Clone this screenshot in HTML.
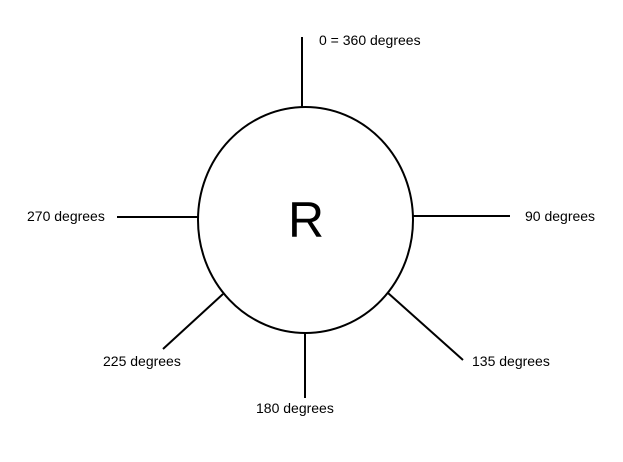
<!DOCTYPE html>
<html><head><style>html,body{margin:0;padding:0;background:#fff;width:623px;height:462px;overflow:hidden}
text{font-family:"Liberation Sans",sans-serif;font-size:14px;fill:#000}</style></head>
<body>
<svg width="623" height="462" viewBox="0 0 623 462" xmlns="http://www.w3.org/2000/svg">
<g stroke="#000" stroke-width="2" fill="none">
<ellipse cx="305.5" cy="220" rx="107.5" ry="113"/>
<line x1="302" y1="37" x2="302" y2="107"/>
<line x1="413" y1="216" x2="510" y2="216"/>
<line x1="117" y1="217" x2="198" y2="217"/>
<line x1="305" y1="333" x2="305" y2="398"/>
<line x1="223" y1="294" x2="163" y2="349"/>
<line x1="388" y1="293" x2="463" y2="360"/>
</g>
<text x="319" y="45">0 = 360 degrees</text>
<text x="525" y="221">90 degrees</text>
<text x="27" y="221">270 degrees</text>
<text x="103" y="366">225 degrees</text>
<text x="256" y="413">180 degrees</text>
<text x="472" y="366">135 degrees</text>
<text x="306" y="237" text-anchor="middle" style="font-size:50px">R</text>
</svg>
</body></html>
